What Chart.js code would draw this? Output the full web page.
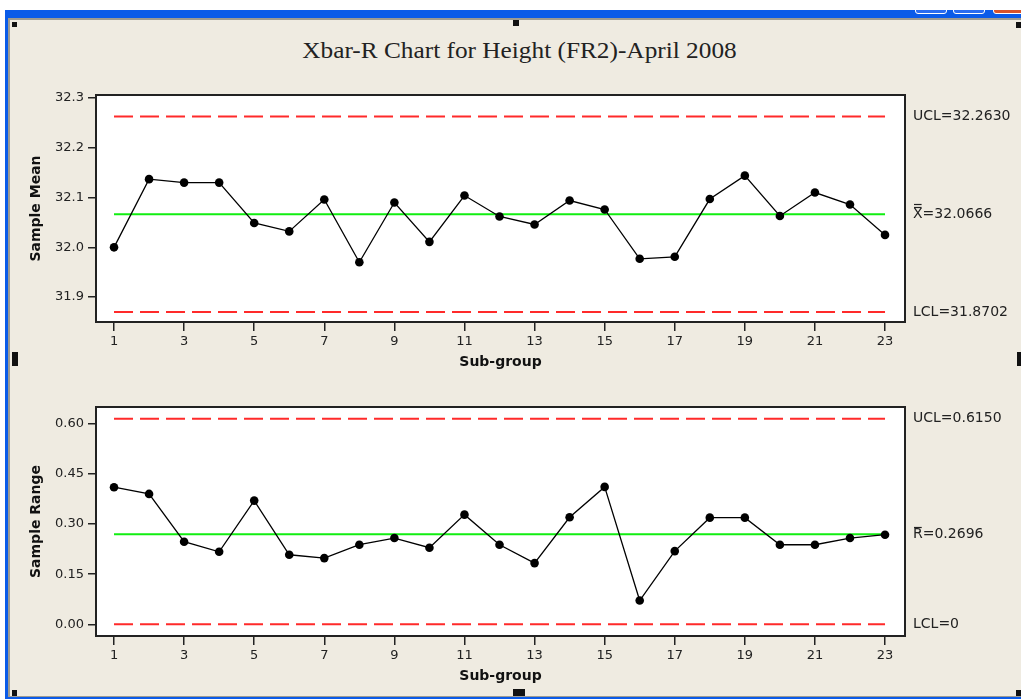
<!DOCTYPE html>
<html><head><meta charset="utf-8">
<script src="https://cdn.jsdelivr.net/npm/chart.js@4/dist/chart.umd.min.js"></script>
<style>
html,body{margin:0;padding:0;background:#fff;}
#page{position:relative;width:1021px;height:699px;overflow:hidden;background:#fff;}
.abs{position:absolute;}
.h{position:absolute;background:#111;}
canvas{position:absolute;left:0;}
#title{position:absolute;left:0;top:38px;width:1038px;text-align:center;font-family:'Liberation Serif','Times New Roman',serif;font-size:23px;color:#222;white-space:nowrap;}
#title span{display:inline-block;transform:scaleX(1.1);transform-origin:center;}
</style></head><body>
<div id="page">
 <div class="abs" style="left:5px;top:10px;width:1016px;height:689px;background:#0A5BE8"></div>
 <div class="abs" style="left:915px;top:-8px;width:30px;height:20px;border:1px solid #fff;border-radius:3px;background:#2a6cf0"></div>
 <div class="abs" style="left:953px;top:-8px;width:30px;height:20px;border:1px solid #fff;border-radius:3px;background:#2a6cf0"></div>
 <div class="abs" style="left:993px;top:-8px;width:40px;height:20px;border:1px solid #fff;border-radius:3px;background:#d9532a"></div>
 <div class="abs" style="left:0;top:0;width:1021px;height:10px;background:#fff"></div>
 <div class="abs" style="left:8px;top:18px;width:1013px;height:679px;background:#9d9b92"></div>
 <div class="abs" style="left:10px;top:20px;width:1011px;height:676px;background:#EFEBE1"></div>
 <div class="h" style="left:12px;top:22px;width:5px;height:5px"></div>
 <div class="h" style="left:513px;top:20px;width:6px;height:6px"></div>
 <div class="h" style="left:1016px;top:22px;width:5px;height:6px"></div>
 <div class="h" style="left:12px;top:352px;width:6px;height:14px"></div>
 <div class="h" style="left:1017px;top:352px;width:4px;height:14px"></div>
 <div class="h" style="left:12px;top:690px;width:5px;height:6px"></div>
 <div class="h" style="left:513px;top:689px;width:12px;height:7px"></div>
 <div class="h" style="left:1016px;top:690px;width:5px;height:6px"></div>
 <div id="title"><span>Xbar-R Chart for Height (FR2)-April 2008</span></div>
 <canvas id="c1" width="1021" height="310" style="top:70px"></canvas>
 <canvas id="c2" width="1021" height="314" style="top:380px"></canvas>
</div>
<script>
const subgroups = [1,2,3,4,5,6,7,8,9,10,11,12,13,14,15,16,17,18,19,20,21,22,23];
const sampleMeans = [32.000,32.137,32.130,32.130,32.049,32.032,32.096,31.970,32.090,32.011,32.104,32.062,32.046,32.094,32.076,31.977,31.981,32.097,32.144,32.063,32.110,32.086,32.025];
const sampleRanges = [0.410,0.390,0.247,0.217,0.370,0.208,0.198,0.238,0.258,0.229,0.328,0.238,0.183,0.320,0.411,0.071,0.219,0.319,0.319,0.238,0.238,0.258,0.268];
const meanLimitValues = [32.2630, 32.0666, 31.8702];
const meanLimitLabels = ['UCL=32.2630', 'X=32.0666', 'LCL=31.8702'];
const rangeLimitValues = [0.6150, 0.2696, 0];
const rangeLimitLabels = ['UCL=0.6150', 'R=0.2696', 'LCL=0'];
const xTicks = [1,3,5,7,9,11,13,15,17,19,21,23];
const meanTicks = [31.9, 32.0, 32.1, 32.2, 32.3];
const rangeTicks = [0.00, 0.15, 0.30, 0.45, 0.60];

const FONT = "'DejaVu Sans', Verdana, sans-serif";
const INK = '#222';

function makeChart(id, values, limits, limitLabels, yTicks, decimals, yMin, yMax, yTitle, padTop, barCount) {
  const first = subgroups[0], last = subgroups[subgroups.length - 1];
  const limitSet = (v, color, dash) => ({
    data: [{x: first, y: v}, {x: last, y: v}],
    borderColor: color, borderWidth: 2, borderDash: dash, pointRadius: 0, fill: false
  });
  const boxPlugin = {
    id: 'box',
    beforeDraw(chart) {
      const a = chart.chartArea, ctx = chart.ctx;
      ctx.save(); ctx.fillStyle = '#fff';
      ctx.fillRect(a.left, a.top, a.right - a.left, a.bottom - a.top);
      ctx.restore();
    },
    afterDraw(chart) {
      const a = chart.chartArea, ctx = chart.ctx, ys = chart.scales.y;
      ctx.save();
      ctx.strokeStyle = INK; ctx.lineWidth = 2;
      ctx.strokeRect(a.left, a.top, a.right - a.left, a.bottom - a.top);
      ctx.font = '14px ' + FONT; ctx.fillStyle = INK;
      ctx.textAlign = 'left'; ctx.textBaseline = 'middle';
      const lx = a.right + 8;
      limits.forEach((v, i) => {
        const y = ys.getPixelForValue(v);
        ctx.fillText(limitLabels[i], lx, y);
        if (i === 1) {
          const w = ctx.measureText(limitLabels[i][0]).width;
          ctx.lineWidth = 1.2;
          for (let k = 0; k < barCount; k++) {
            const by = Math.round(y - 7.5 - k * 2.5) + 0.5;
            ctx.beginPath(); ctx.moveTo(lx + 1, by); ctx.lineTo(lx + w - 1, by); ctx.stroke();
          }
        }
      });
      ctx.restore();
    }
  };
  return new Chart(document.getElementById(id), {
    type: 'line',
    data: {
      datasets: [
        { data: subgroups.map((s, i) => ({x: s, y: values[i]})), borderColor: '#000', borderWidth: 1.3,
          pointRadius: 4.3, pointBackgroundColor: '#000', pointBorderWidth: 0, tension: 0, fill: false },
        limitSet(limits[0], '#ff2a2a', [19, 7]),
        limitSet(limits[1], '#11ee11', []),
        limitSet(limits[2], '#ff2a2a', [19, 7])
      ]
    },
    options: {
      responsive: false, animation: false,
      layout: { padding: { top: padTop, right: 116, left: 0, bottom: 0 } },
      plugins: { legend: { display: false }, tooltip: { enabled: false } },
      scales: {
        x: {
          type: 'linear', min: 0.486, max: 23.57,
          afterBuildTicks: s => { s.ticks = xTicks.map(v => ({value: v})); },
          afterFit: s => { s.height = 58; },
          border: { display: false },
          grid: { drawOnChartArea: false, drawTicks: true, tickLength: 9, tickColor: INK, lineWidth: 1.5 },
          ticks: { font: { family: FONT, size: 13 }, color: INK, padding: 3, maxRotation: 0, autoSkip: false },
          title: { display: true, text: 'Sub-group', color: '#111', font: { family: FONT, size: 14, weight: 'bold' }, padding: { top: 0, bottom: 9 } }
        },
        y: {
          type: 'linear', min: yMin, max: yMax,
          afterBuildTicks: s => { s.ticks = yTicks.map(v => ({value: v})); },
          afterFit: s => { s.width = 96; },
          border: { display: false },
          grid: { drawOnChartArea: false, drawTicks: true, tickLength: 8, tickColor: INK, lineWidth: 1.5 },
          ticks: { font: { family: FONT, size: 13 }, color: INK, padding: 4, callback: v => Number(v).toFixed(decimals) },
          title: { display: true, text: yTitle, color: '#111', font: { family: FONT, size: 14, weight: 'bold' }, padding: { top: 28, bottom: 0 } }
        }
      }
    },
    plugins: [boxPlugin]
  });
}

makeChart('c1', sampleMeans, meanLimitValues, meanLimitLabels, meanTicks, 1, 31.85, 32.306, 'Sample Mean', 25, 2);
makeChart('c2', sampleRanges, rangeLimitValues, rangeLimitLabels, rangeTicks, 2, -0.035, 0.650, 'Sample Range', 27, 1);
</script>
</body></html>
